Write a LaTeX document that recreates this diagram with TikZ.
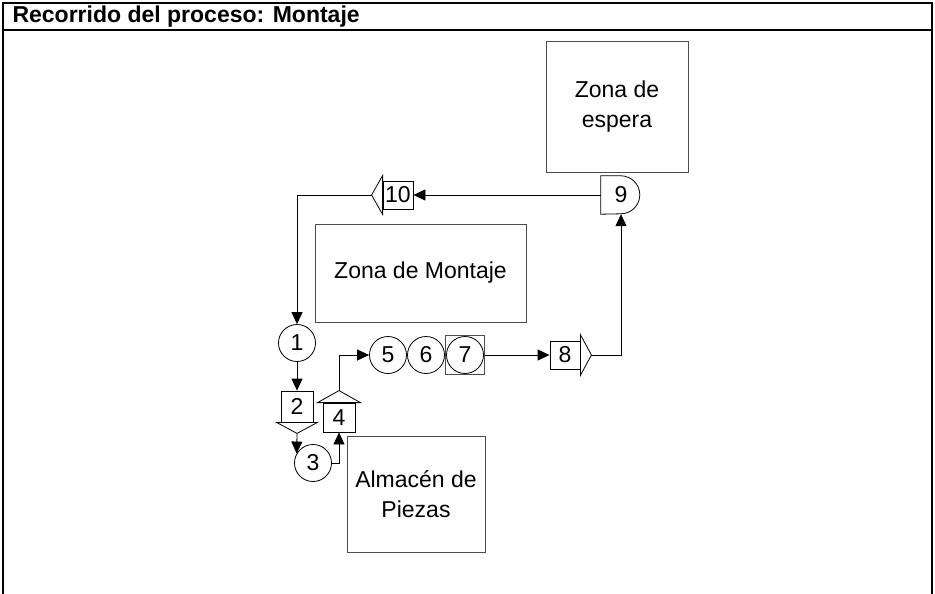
\documentclass[tikz,border=0pt]{standalone}
\usepackage{fontspec}
\setmainfont{Liberation Sans}
\usetikzlibrary{arrows.meta,calc}

\tikzset{
  zone/.style={draw=black!70, line width=1pt, rectangle, align=center},
  stepcirc/.style={draw, line width=0.8pt, circle, minimum size=37pt, inner sep=0pt},
  stepbody/.style={draw, line width=0.8pt, rectangle, inner sep=0pt},
  conn/.style={line width=0.8pt, -{Triangle[length=12pt,width=11pt]}}
}

\begin{document}
\begin{tikzpicture}[x=1pt,y=-1pt,font=\fontsize{23}{30}\selectfont]
\useasboundingbox (0,0) rectangle (935,594);
% frame and title
\draw[line width=2pt] (3,600) -- (3,3) -- (932,3) -- (932,600);
\draw[line width=1.5pt] (3,30) -- (932,30);
\node[anchor=base west, font=\fontsize{23}{28}\selectfont\bfseries] (title) at (9,23) {Recorrido del proceso: Montaje};

% zones
\node[zone, minimum width=142pt, minimum height=130pt] (espera) at (617,107) {Zona de\\espera};
\node[zone, minimum width=211pt, minimum height=98pt] (montaje) at (420.5,273) {Zona de Montaje};
\node[zone, minimum width=138pt, minimum height=116pt] (almacen) at (416,494) {Almac\'en de\\Piezas};

% steps
\node[stepcirc] (n1) at (297,343) {1};
\node[stepbody, minimum width=32pt, minimum height=31pt] (n2) at (297,406.5) {2};
\draw[line width=0.8pt] ($(n2.south west)+(-4,0)$) -- ($(n2.south)+(0,11)$) -- ($(n2.south east)+(4,0)$) -- cycle;
\coordinate (n2tip) at ($(n2.south)+(0,11)$);
\node[stepcirc] (n3) at (313,463) {3};
\node[stepbody, minimum width=32pt, minimum height=29pt] (n4) at (339,417.5) {4};
\draw[line width=0.8pt] ($(n4.north west)+(-5,0)$) -- ($(n4.north)+(0,-12)$) -- ($(n4.north east)+(5,0)$) -- cycle;
\coordinate (n4tip) at ($(n4.north)+(0,-12)$);
\node[stepcirc] (n5) at (388,355) {5};
\node[stepcirc] (n6) at (426,355) {6};
\node[stepcirc] (n7) at (465,355) {7};
\node[draw=black!70, line width=0.8pt, minimum size=39pt, inner sep=0pt] (n7box) at (465,355) {};
\node[stepbody, minimum width=30pt, minimum height=28pt] (n8) at (565,355) {8};
\draw[line width=0.8pt] ($(n8.north east)+(0,-6)$) -- ($(n8.east)+(11,0)$) -- ($(n8.south east)+(0,6)$) -- cycle;
\coordinate (n8tip) at ($(n8.east)+(11,0)$);
\node[minimum width=40pt, minimum height=38pt, inner sep=0pt] (n9) at (621,195) {9};
\draw[line width=0.8pt] (n9.north west) -- ++(20,0) arc[start angle=-90, end angle=90, radius=19] -- (n9.south west) -- cycle;
\node[stepbody, minimum width=30pt, minimum height=28pt] (n10) at (398,195) {10};
\draw[line width=0.8pt] ($(n10.north west)+(0,-5)$) -- ($(n10.west)+(-11,0)$) -- ($(n10.south west)+(0,5)$) -- cycle;
\coordinate (n10tip) at ($(n10.west)+(-11,0)$);

% flow
\draw[conn] (n9.west) -- (n10.east);
\draw[conn] (n10tip) -| (n1.north);
\draw[conn] (n1.south) -- (n2.north);
\draw[conn] (n2tip) -- (n3.150);
\draw[conn] (n3.east) -| (n4.south);
\draw[conn] (n4tip) |- (n5.west);
\draw[conn] (n7box.east) -- (n8.west);
\draw[conn] (n8tip) -| (n9.south);
\end{tikzpicture}
\end{document}
